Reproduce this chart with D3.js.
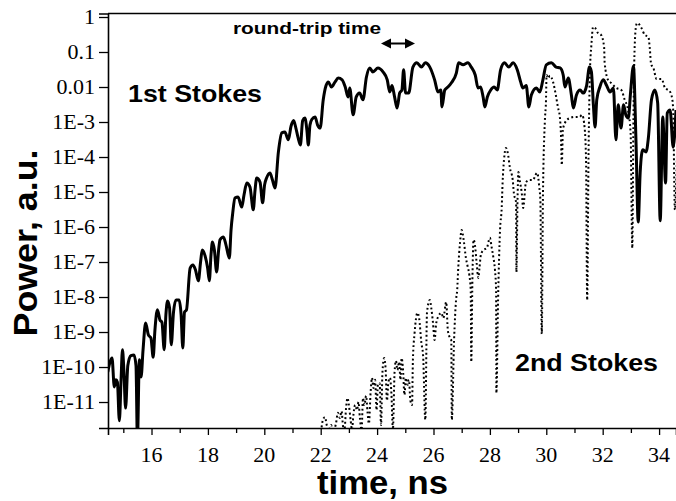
<!DOCTYPE html>
<html>
<head>
<meta charset="utf-8">
<script src="https://cdn.jsdelivr.net/npm/d3@7"></script>
<style>
  body { margin: 0; background: #fff; }
  svg { display: block; }
</style>
</head>
<body>
<svg id="chart" width="676" height="501"></svg>
<script>
// 1st Stokes pulse: time (ns) and power (a.u.)
const stokes1Time = [
  14.45, 14.53, 14.60, 14.68, 14.74, 14.79, 14.86, 14.92, 14.97, 15.02,
  15.08, 15.16, 15.27, 15.38, 15.45, 15.50, 15.57, 15.63, 15.70, 15.79,
  15.89, 15.98, 16.06, 16.12, 16.21, 16.30, 16.37, 16.45, 16.51, 16.57,
  16.64, 16.70, 16.78, 16.87, 16.98, 17.05, 17.11, 17.17, 17.24, 17.37,
  17.47, 17.56, 17.66, 17.74, 17.80, 17.90, 17.99, 18.05, 18.11, 18.16,
  18.23, 18.31, 18.38, 18.43, 18.55, 18.64, 18.76, 18.82, 18.88, 18.96,
  19.07, 19.20, 19.28, 19.38, 19.49, 19.61, 19.67, 19.73, 19.85, 19.94,
  20.01, 20.08, 20.20, 20.29, 20.38, 20.50, 20.62, 20.73, 20.85, 20.95,
  21.04, 21.12, 21.20, 21.28, 21.36, 21.44, 21.51, 21.56, 21.62, 21.69,
  21.80, 21.89, 21.98, 22.09, 22.19, 22.27, 22.38, 22.51, 22.62, 22.76,
  22.87, 22.97, 23.03, 23.15, 23.26, 23.38, 23.50, 23.62, 23.74, 23.85,
  24.03, 24.21, 24.36, 24.45, 24.53, 24.62, 24.71, 24.80, 24.88, 24.94,
  25.01, 25.12, 25.27, 25.41, 25.57, 25.71, 25.87, 26.04, 26.16, 26.26,
  26.30, 26.40, 26.51, 26.63, 26.81, 26.89, 27.05, 27.22, 27.34, 27.48,
  27.58, 27.67, 27.76, 27.82, 27.91, 28.03, 28.15, 28.26, 28.38, 28.52,
  28.67, 28.82, 28.97, 29.09, 29.17, 29.29, 29.38, 29.47, 29.65, 29.77,
  29.88, 30.00, 30.18, 30.35, 30.49, 30.60, 30.66, 30.78, 30.89, 30.96,
  31.07, 31.20, 31.31, 31.43, 31.53, 31.60, 31.67, 31.73, 31.79, 31.90,
  32.02, 32.14, 32.26, 32.38, 32.47, 32.55, 32.65, 32.74, 32.82, 32.91,
  32.99, 33.09, 33.18, 33.26, 33.33, 33.42, 33.54, 33.62, 33.73, 33.85,
  33.95, 34.04, 34.13, 34.23, 34.29, 34.39, 34.50, 34.60
];
const stokes1Power = [
  7.2e-11, 1.4e-10, 1.8e-10, 2.7e-11, 4.3e-11, 3.7e-11, 2.9e-12, 4.3e-11, 3.1e-10, 8.2e-11,
  6.7e-12, 1.1e-10, 2.1e-10, 2.2e-10, 1.1e-10, 8.2e-13, 1.6e-10, 5.2e-11, 3.1e-10, 1.8e-9,
  8.2e-10, 6.7e-10, 1.9e-10, 1.1e-9, 4.3e-9, 2.2e-9, 1.9e-9, 3.1e-10, 3.1e-9, 7.7e-9,
  4.9e-9, 4.3e-10, 3.7e-9, 8.2e-9, 8.2e-9, 3.1e-9, 3.5e-10, 3.7e-9, 4.3e-9, 6.7e-8,
  8.2e-8, 5.9e-8, 2.9e-8, 1.0e-7, 2.2e-7, 1.5e-7, 6.7e-8, 2.9e-8, 1.6e-7, 3.7e-7,
  2.2e-7, 5.2e-8, 2.2e-7, 4.3e-7, 5.2e-7, 3.1e-7, 1.3e-7, 8.2e-7, 2.5e-6, 6.7e-6,
  7.2e-6, 3.7e-6, 8.2e-6, 1.8e-5, 1.4e-5, 3.1e-6, 1.1e-5, 2.5e-5, 1.9e-5, 4.9e-6,
  1.6e-5, 2.5e-5, 3.5e-5, 2.2e-5, 1.3e-5, 1.4e-4, 4.9e-4, 5.2e-4, 3.1e-4, 7.7e-4,
  1.1e-3, 6.7e-4, 3.5e-4, 2.2e-4, 1.1e-3, 1.3e-3, 5.9e-4, 2.2e-4, 8.2e-4, 1.2e-3,
  1.4e-3, 8.2e-4, 6.7e-4, 4.3e-3, 1.1e-2, 1.4e-2, 1.0e-2, 1.4e-2, 1.8e-2, 1.6e-2,
  1.0e-2, 5.2e-3, 9.4e-3, 1.6e-3, 5.2e-3, 6.7e-3, 4.3e-3, 1.9e-2, 3.5e-2, 2.7e-2,
  3.5e-2, 2.7e-2, 1.6e-2, 7.2e-3, 1.1e-2, 5.2e-3, 2.5e-3, 6.7e-3, 8.2e-3, 3.1e-2,
  6.7e-3, 6.7e-3, 3.7e-2, 4.9e-2, 3.7e-2, 4.9e-2, 3.7e-2, 1.6e-2, 7.2e-3, 8.2e-3,
  2.7e-3, 8.2e-3, 1.0e-2, 1.3e-2, 2.5e-2, 4.9e-2, 4.3e-2, 4.9e-2, 3.7e-2, 2.2e-2,
  9.4e-3, 1.0e-2, 5.2e-3, 2.7e-3, 5.2e-3, 8.2e-3, 1.0e-2, 8.2e-3, 3.1e-2, 4.9e-2,
  3.7e-2, 4.9e-2, 3.1e-2, 1.4e-2, 9.4e-3, 1.1e-2, 2.7e-3, 5.9e-3, 9.4e-3, 7.2e-3,
  1.6e-2, 4.3e-2, 4.9e-2, 3.7e-2, 3.5e-2, 2.2e-2, 1.0e-2, 1.8e-2, 5.9e-3, 2.5e-3,
  5.9e-3, 8.2e-3, 6.7e-3, 1.1e-2, 3.7e-2, 2.7e-2, 3.1e-3, 7.2e-4, 4.3e-3, 1.0e-2,
  1.6e-2, 1.1e-2, 7.2e-3, 9.4e-3, 3.1e-4, 3.1e-3, 6.7e-4, 3.1e-3, 1.6e-3, 1.3e-3,
  7.2e-3, 4.0e-2, 3.1e-4, 1.4e-6, 3.7e-5, 1.6e-4, 1.4e-4, 3.5e-4, 4.3e-3, 8.2e-3,
  3.5e-3, 1.5e-6, 1.4e-3, 1.8e-5, 1.8e-3, 2.2e-3, 1.9e-4, 2.2e-3
];

// 2nd Stokes pulse: time (ns) and power (a.u.)
const stokes2Time = [
  22.01, 22.08, 22.15, 22.22, 22.29, 22.37, 22.44, 22.54, 22.61, 22.68,
  22.74, 22.79, 22.84, 22.90, 22.95, 23.00, 23.06, 23.11, 23.16, 23.22,
  23.29, 23.34, 23.39, 23.45, 23.50, 23.55, 23.61, 23.66, 23.71, 23.77,
  23.82, 23.87, 23.93, 23.98, 24.03, 24.09, 24.14, 24.19, 24.25, 24.30,
  24.35, 24.40, 24.46, 24.51, 24.56, 24.62, 24.67, 24.72, 24.78, 24.83,
  24.87, 24.92, 24.97, 25.02, 25.08, 25.13, 25.18, 25.24, 25.27, 25.33,
  25.43, 25.49, 25.57, 25.63, 25.71, 25.77, 25.87, 25.93, 25.98, 26.04,
  26.09, 26.16, 26.28, 26.35, 26.45, 26.51, 26.59, 26.63, 26.65, 26.73,
  26.80, 26.84, 26.88, 26.94, 27.00, 27.08, 27.15, 27.20, 27.27, 27.32,
  27.34, 27.38, 27.42, 27.47, 27.53, 27.59, 27.63, 27.68, 27.77, 27.89,
  28.00, 28.06, 28.12, 28.18, 28.22, 28.23, 28.29, 28.36, 28.42, 28.45,
  28.50, 28.57, 28.65, 28.71, 28.81, 28.85, 28.93, 28.94, 28.98, 29.01,
  29.07, 29.13, 29.18, 29.28, 29.39, 29.54, 29.60, 29.68, 29.75, 29.79,
  29.84, 29.88, 29.95, 29.99, 30.01, 30.06, 30.13, 30.24, 30.35, 30.41,
  30.48, 30.52, 30.55, 30.59, 30.66, 30.71, 30.84, 31.01, 31.18, 31.27,
  31.36, 31.41, 31.45, 31.50, 31.55, 31.60, 31.66, 31.73, 31.83, 31.94,
  32.05, 32.07, 32.19, 32.30, 32.48, 32.66, 32.78, 32.90, 32.99, 33.05,
  33.09, 33.13, 33.19, 33.23, 33.37, 33.49, 33.62, 33.67, 33.72, 33.79,
  33.91, 34.09, 34.21, 34.37, 34.46, 34.50, 34.56, 34.64
];
const stokes2Power = [
  1.4e-12, 3.1e-12, 3.7e-12, 2.1e-12, 1.5e-12, 2.2e-12, 1.4e-12, 2.4e-12, 4.9e-12, 3.5e-12,
  5.5e-12, 2.1e-12, 1.5e-12, 6.7e-12, 1.3e-11, 8.2e-12, 3.1e-12, 1.6e-12, 4.3e-12, 8.2e-12,
  5.9e-12, 1.0e-11, 3.5e-12, 1.6e-12, 1.3e-11, 8.2e-12, 1.5e-11, 5.2e-12, 2.4e-12, 1.9e-11,
  4.9e-11, 2.5e-11, 4.3e-11, 5.9e-12, 3.1e-11, 3.5e-11, 2.2e-12, 7.2e-11, 1.8e-10, 9.4e-11,
  1.1e-11, 3.7e-11, 4.9e-11, 1.6e-11, 1.6e-12, 7.2e-11, 1.5e-10, 8.2e-11, 1.4e-10, 4.3e-11,
  1.8e-10, 8.2e-11, 1.6e-11, 4.9e-11, 3.1e-11, 4.3e-11, 1.1e-11, 8.2e-12, 1.6e-10, 9.4e-10,
  3.5e-9, 2.5e-9, 4.9e-10, 2.2e-10, 3.1e-12, 3.7e-9, 8.2e-9, 4.3e-9, 1.9e-9, 5.9e-10,
  1.6e-9, 2.7e-9, 3.5e-9, 2.5e-9, 7.2e-9, 1.1e-9, 6.7e-10, 5.9e-10, 3.1e-12, 5.9e-10,
  8.2e-9, 1.6e-8, 7.2e-8, 3.5e-7, 8.2e-7, 3.7e-7, 1.3e-7, 8.2e-8, 4.3e-8, 1.6e-8,
  1.4e-10, 3.1e-8, 4.3e-7, 3.1e-7, 9.4e-8, 3.5e-8, 6.7e-8, 1.6e-7, 2.2e-7, 2.5e-7,
  4.9e-7, 2.7e-7, 1.4e-7, 5.9e-8, 1.6e-8, 1.8e-11, 8.2e-9, 8.2e-7, 3.7e-6, 1.8e-5,
  8.2e-5, 1.8e-4, 1.1e-4, 4.9e-5, 2.2e-5, 9.4e-6, 4.9e-6, 5.2e-8, 5.9e-6, 3.7e-5,
  1.9e-5, 9.4e-6, 3.5e-6, 1.9e-5, 2.2e-5, 2.2e-5, 2.9e-5, 3.5e-5, 1.4e-5, 5.9e-6,
  8.8e-10, 5.9e-6, 1.1e-3, 4.3e-3, 2.2e-2, 1.8e-2, 2.1e-2, 1.4e-2, 5.2e-3, 2.7e-3,
  1.4e-3, 4.3e-4, 5.9e-5, 5.9e-4, 9.4e-4, 1.1e-3, 1.3e-3, 1.4e-3, 1.4e-3, 1.6e-3,
  6.7e-4, 8.2e-5, 8.2e-9, 1.6e-4, 3.1e-2, 1.6e-1, 5.2e-1, 4.9e-1, 3.5e-1, 3.1e-1,
  1.4e-1, 4.9e-2, 1.6e-2, 1.3e-2, 9.4e-3, 8.2e-3, 4.3e-3, 2.2e-3, 4.9e-4, 2.5e-7,
  1.1e-3, 1.1e-1, 5.9e-1, 6.7e-1, 4.9e-1, 3.1e-1, 2.7e-1, 1.3e-1, 4.3e-2, 3.7e-2,
  1.7e-2, 1.7e-2, 9.4e-3, 7.7e-3, 4.9e-3, 2.2e-3, 3.1e-6, 1.6e-4
];

// Axis ticks and labels
const xMajorTicks = [16, 18, 20, 22, 24, 26, 28, 30, 32, 34];
const xMinorTicks = [15, 17, 19, 21, 23, 25, 27, 29, 31, 33];
const yMajorTicks = [1, 0.1, 0.01, 1e-3, 1e-4, 1e-5, 1e-6, 1e-7, 1e-8, 1e-9, 1e-10, 1e-11];
const yTickLabels = ["1", "0.1", "0.01", "1E-3", "1E-4", "1E-5", "1E-6", "1E-7", "1E-8", "1E-9", "1E-10", "1E-11"];

const xDomain = [14.457, 34.6];
const yDomain = [1.81e-12, 1.259];

const plot = { left: 108, right: 676, top: 13.5, bottom: 428 };

const svg = d3.select("#chart");

const x = d3.scaleLinear().domain(xDomain).range([plot.left, plot.right]);
const y = d3.scaleLog().domain(yDomain).range([plot.bottom, plot.top]);

svg.append("rect").attr("width", 676).attr("height", 501).attr("fill", "#fff");

svg.append("defs").append("clipPath").attr("id", "plotClip")
  .append("rect")
  .attr("x", plot.left).attr("y", plot.top)
  .attr("width", plot.right - plot.left).attr("height", plot.bottom - plot.top);

const serif = "'Liberation Serif', 'Times New Roman', serif";
const sans = "'Liberation Sans', Arial, sans-serif";

// stretch text horizontally by a factor
function stretch(sel, factor) {
  sel.each(function () {
    const w = this.getComputedTextLength();
    d3.select(this).attr("textLength", w * factor).attr("lengthAdjust", "spacingAndGlyphs");
  });
}

// X axis: major ticks with labels, minor ticks without
const xAxisG = svg.append("g").attr("transform", `translate(0,${plot.bottom})`);
xAxisG.call(d3.axisBottom(x).tickValues(xMajorTicks).tickSize(7).tickFormat(""));
svg.append("g").attr("transform", `translate(0,${plot.bottom})`)
  .call(d3.axisBottom(x).tickValues(xMinorTicks).tickSize(5).tickFormat(""))
  .select(".domain").remove();

// Y axis: decades with labels, log minor ticks
const yAxisG = svg.append("g").attr("transform", `translate(${plot.left},0)`);
yAxisG.call(d3.axisLeft(y).tickValues(yMajorTicks).tickSize(9).tickFormat(""));
const yMinor = y.ticks().filter(v => Math.abs(Math.log10(v) - Math.round(Math.log10(v))) > 1e-6);
svg.append("g").attr("transform", `translate(${plot.left},0)`)
  .call(d3.axisLeft(y).tickValues(yMinor).tickSize(4).tickFormat(""))
  .select(".domain").remove();

svg.selectAll(".domain").attr("stroke", "#000").attr("stroke-width", 1.6);
svg.selectAll(".tick line").attr("stroke", "#000").attr("stroke-width", 1.3);

// top frame line
svg.append("line")
  .attr("x1", plot.left).attr("x2", plot.right)
  .attr("y1", plot.top).attr("y2", plot.top)
  .attr("stroke", "#000").attr("stroke-width", 1.6);

// tick labels
svg.append("g").selectAll("text").data(xMajorTicks).join("text")
  .attr("x", d => x(d)).attr("y", 462)
  .attr("text-anchor", "middle")
  .attr("font-family", serif).attr("font-size", 20)
  .text(d => d)
  .call(stretch, 1.1);

svg.append("g").selectAll("text").data(yMajorTicks).join("text")
  .attr("x", 95).attr("y", d => y(d) + 6.5)
  .attr("text-anchor", "end")
  .attr("font-family", serif).attr("font-size", 20)
  .text((d, i) => yTickLabels[i])
  .call(stretch, 1.1);

// axis titles
svg.append("text")
  .attr("x", 382.5).attr("y", 494)
  .attr("text-anchor", "middle")
  .attr("font-family", sans).attr("font-weight", "bold").attr("font-size", 33)
  .attr("textLength", 131).attr("lengthAdjust", "spacingAndGlyphs")
  .text("time, ns");

svg.append("text")
  .attr("transform", "translate(37,243) rotate(-90)")
  .attr("text-anchor", "middle")
  .attr("font-family", sans).attr("font-weight", "bold").attr("font-size", 34)
  .attr("textLength", 187).attr("lengthAdjust", "spacingAndGlyphs")
  .text("Power, a.u.");

// data lines
const line = d3.line()
  .x(d => x(d[0]))
  .y(d => y(d[1]))
  .curve(d3.curveMonotoneX);

const s1 = stokes1Time.map((t, i) => [t, stokes1Power[i]]);
const s2 = stokes2Time.map((t, i) => [t, stokes2Power[i]]);

const lines = svg.append("g").attr("clip-path", "url(#plotClip)");

lines.append("path")
  .attr("d", line(s2))
  .attr("fill", "none")
  .attr("stroke", "#000")
  .attr("stroke-width", 2)
  .attr("stroke-dasharray", "1.9 2.6");

lines.append("path")
  .attr("d", line(s1))
  .attr("fill", "none")
  .attr("stroke", "#000")
  .attr("stroke-width", 3)
  .attr("stroke-linejoin", "round");

// series labels
svg.append("text")
  .attr("x", 128).attr("y", 102)
  .attr("font-family", sans).attr("font-weight", "bold").attr("font-size", 24)
  .attr("textLength", 134).attr("lengthAdjust", "spacingAndGlyphs")
  .text("1st Stokes");

svg.append("text")
  .attr("x", 515).attr("y", 371)
  .attr("font-family", sans).attr("font-weight", "bold").attr("font-size", 24)
  .attr("textLength", 143).attr("lengthAdjust", "spacingAndGlyphs")
  .text("2nd Stokes");

// round-trip annotation with double-headed arrow
svg.append("text")
  .attr("x", 233).attr("y", 34)
  .attr("font-family", sans).attr("font-weight", "bold").attr("font-size", 17)
  .attr("textLength", 148).attr("lengthAdjust", "spacingAndGlyphs")
  .text("round-trip time");

const arrowY = 43.5, ax1 = 381, ax2 = 415;
svg.append("line")
  .attr("x1", ax1 + 6).attr("x2", ax2 - 6)
  .attr("y1", arrowY).attr("y2", arrowY)
  .attr("stroke", "#000").attr("stroke-width", 2);
svg.append("path")
  .attr("d", `M${ax1},${arrowY} L${ax1 + 10},${arrowY - 5} L${ax1 + 10},${arrowY + 5} Z`)
  .attr("fill", "#000");
svg.append("path")
  .attr("d", `M${ax2},${arrowY} L${ax2 - 10},${arrowY - 5} L${ax2 - 10},${arrowY + 5} Z`)
  .attr("fill", "#000");
</script>
</body>
</html>
